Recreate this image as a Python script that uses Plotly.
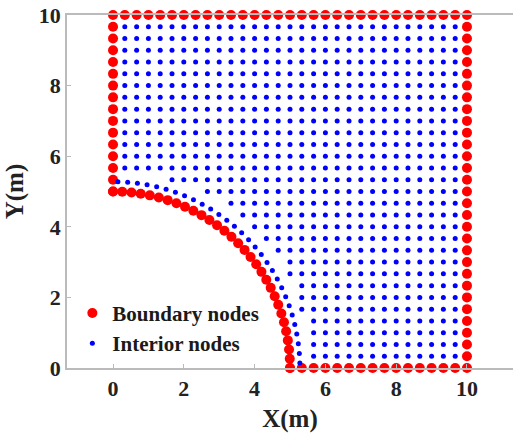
import numpy as np
import plotly.graph_objects as go

# Grid coordinates of the node layout (m), spacing read as ~1/3 m
grid = [0.0, 0.333, 0.667, 1.0, 1.333, 1.667, 2.0, 2.333, 2.667, 3.0, 3.333,
        3.667, 4.0, 4.333, 4.667, 5.0, 5.333, 5.667, 6.0, 6.333, 6.667, 7.0,
        7.333, 7.667, 8.0, 8.333, 8.667, 9.0, 9.333, 9.667, 10.0]
# Angles (deg) of the boundary nodes on the quarter-circle hole
arc_angles_deg = [0, 3, 6, 9, 12, 15, 18, 21, 24, 27, 30, 33, 36, 39, 42, 45,
                  48, 51, 54, 57, 60, 63, 66, 69, 72, 75, 78, 81, 84, 87, 90]
# Angles (deg) of the interior layer that follows the hole
inner_angles_deg = [1.5, 4.5, 7.5, 10.5, 13.5, 16.5, 19.5, 22.5, 25.5, 28.5,
                    31.5, 34.5, 37.5, 40.5, 43.5, 46.5, 49.5, 52.5, 55.5, 58.5,
                    61.5, 64.5, 67.5, 70.5, 73.5, 76.5, 79.5, 82.5, 85.5, 88.5]
hole_radius = 5.0
inner_layer_radius = 5.28
interior_min_radius = 5.55
x_ticks = [0, 2, 4, 6, 8, 10]
y_ticks = [0, 2, 4, 6, 8, 10]

g = np.array(grid)
L = g[-1]
# boundary nodes
bx, by = [], []
for v in g:                       # top edge
    bx.append(v); by.append(L)
for v in g[:-1]:                  # right edge
    bx.append(L); by.append(v)
for v in g[g >= hole_radius - 1e-6][:-1]:   # bottom edge
    bx.append(v); by.append(0.0)
for v in g[g >= hole_radius - 1e-6][:-1]:   # left edge
    bx.append(0.0); by.append(v)
a = np.radians(arc_angles_deg)
bx += list(hole_radius * np.cos(a)); by += list(hole_radius * np.sin(a))

# interior nodes
ix, iy = [], []
for xv in g[1:-1]:
    for yv in g[1:-1]:
        if np.hypot(xv, yv) >= interior_min_radius:
            ix.append(xv); iy.append(yv)
b = np.radians(inner_angles_deg)
ix += list(inner_layer_radius * np.cos(b)); iy += list(inner_layer_radius * np.sin(b))

fig = go.Figure()
fig.add_trace(go.Scatter(x=bx, y=by, mode="markers", name="<b>Boundary nodes</b>",
                         marker=dict(color="#ff0000", size=10, line=dict(width=0)),
                         cliponaxis=False))
fig.add_trace(go.Scatter(x=ix, y=iy, mode="markers", name="<b>Interior nodes</b>",
                         marker=dict(color="#0000ff", size=5, line=dict(width=0)),
                         cliponaxis=False))

font_fam = "Liberation Serif, Times New Roman, serif"
x_ticktext = ["<b>%d</b>" % v for v in x_ticks]
y_ticktext = ["<b>%d</b>" % v for v in y_ticks]
fig.update_layout(
    width=513, height=435,
    margin=dict(l=67, r=0, t=15, b=67),
    paper_bgcolor="white", plot_bgcolor="white",
    font=dict(family=font_fam, color="#222222"),
    showlegend=True,
    legend=dict(x=0.012, y=0.213, xanchor="left", yanchor="top",
                bgcolor="rgba(255,255,255,0)",
                font=dict(family=font_fam, size=21, color="#1a1a1a"),
                itemsizing="trace", tracegroupgap=0),
    xaxis=dict(range=[-1.3, 11.3], tickvals=x_ticks, ticktext=x_ticktext,
               ticks="inside", ticklen=4,
               tickcolor="#bbbbbb", showline=True, linecolor="#bbbbbb", linewidth=1.5,
               mirror=True, showgrid=False, zeroline=False,
               tickfont=dict(family=font_fam, size=22, color="#222222"),
               title=dict(text="<b>X(m)</b>", standoff=9,
                          font=dict(family=font_fam, size=25, color="#222222"))),
    yaxis=dict(range=[0, 10], tickvals=y_ticks, ticktext=y_ticktext,
               ticks="inside", ticklen=4,
               tickcolor="#bbbbbb", showline=True, linecolor="#bbbbbb", linewidth=1.5,
               mirror=False, showgrid=False, zeroline=False,
               tickfont=dict(family=font_fam, size=22, color="#222222"),
               title=dict(text="<b>Y(m)</b>", standoff=8,
                          font=dict(family=font_fam, size=25, color="#222222"))),
)
fig.write_html("out.html")
